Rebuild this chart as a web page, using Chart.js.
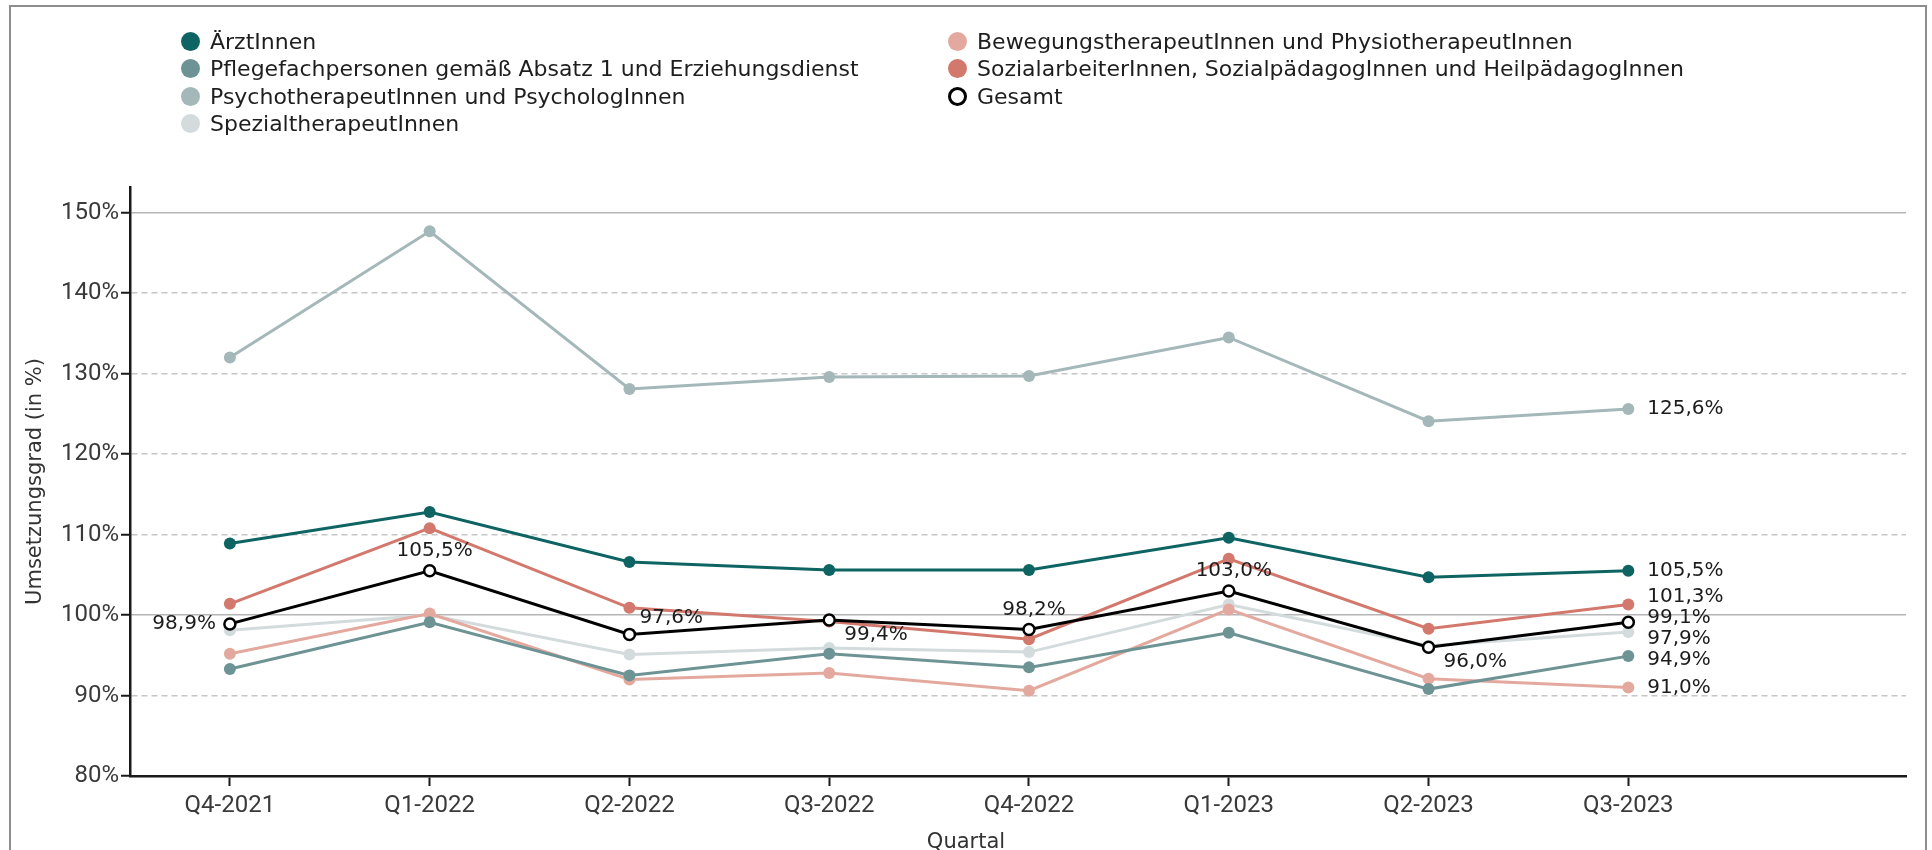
<!DOCTYPE html>
<html lang="de">
<head>
<meta charset="utf-8">
<title>Umsetzungsgrad</title>
<script src="https://cdn.jsdelivr.net/npm/chart.js@4.4.1/dist/chart.umd.min.js"></script>
<style>
  html, body { margin: 0; padding: 0; background: #fff; overflow: hidden; }
  #frame { position: absolute; left: 9px; top: 5px; width: 1918px; height: 900px; border: 2px solid #8e8e8e; box-sizing: border-box; }
  #wrap { position: absolute; left: 0; top: 0; width: 1932px; height: 850px; }
  #legend {
    position: absolute; left: 181px; top: 28px; z-index: 2;
    display: grid; grid-template-rows: repeat(4, 27.3px); grid-auto-flow: column;
    grid-template-columns: 767px auto;
    font-family: "DejaVu Sans"; font-size: 22px; color: #1e1e1e;
  }
  .item { display: flex; align-items: center; white-space: nowrap; }
  .dot { width: 19px; height: 19px; border-radius: 50%; margin-right: 10px; box-sizing: border-box; flex: none; }
</style>
</head>
<body>
<div id="frame"></div>
<div id="legend"></div>
<div id="wrap"><canvas id="chart"></canvas></div>
<script>
// Werte
const categories = ['Q4-2021', 'Q1-2022', 'Q2-2022', 'Q3-2022', 'Q4-2022', 'Q1-2023', 'Q2-2023', 'Q3-2023'];
const yTicks = [80, 90, 100, 110, 120, 130, 140, 150];
const solidLines = [100, 150];

const aerzte   = [108.9, 112.8, 106.6, 105.6, 105.6, 109.6, 104.7, 105.5];
const pflege   = [93.3, 99.1, 92.5, 95.2, 93.5, 97.8, 90.8, 94.9];
const psycho   = [132.0, 147.7, 128.1, 129.6, 129.7, 134.5, 124.1, 125.6];
const spezial  = [98.1, 100.0, 95.1, 95.9, 95.4, 101.3, 96.2, 97.9];
const bewegung = [95.2, 100.2, 92.0, 92.8, 90.6, 100.7, 92.1, 91.0];
const sozial   = [101.4, 110.8, 100.9, 99.2, 97.0, 107.0, 98.3, 101.3];
const gesamt   = [98.9, 105.5, 97.6, 99.4, 98.2, 103.0, 96.0, 99.1];

const seriesNames = [
  'ÄrztInnen',
  'Pflegefachpersonen gemäß Absatz 1 und Erziehungsdienst',
  'PsychotherapeutInnen und PsychologInnen',
  'SpezialtherapeutInnen',
  'BewegungstherapeutInnen und PhysiotherapeutInnen',
  'SozialarbeiterInnen, SozialpädagogInnen und HeilpädagogInnen',
  'Gesamt'
];
const seriesValues = [aerzte, pflege, psycho, spezial, bewegung, sozial, gesamt];
const seriesColors = ['#0e6462', '#6d9395', '#a4b7b9', '#d4dbdd', '#e4a99e', '#d3786c', '#000000'];

// wo die Gesamt-Werte stehen (letzter Wert kommt in die Spalte rechts)
const gesamtAnchor = ['left', 'top', 'topRight', 'bottomRight', 'top', 'top', 'bottomRight', 'end'];

const totalIdx = seriesNames.length - 1;
const tickFont = { family: 'Roboto', size: 24 };

function fmt(v) {
  return v.toFixed(1).replace('.', ',') + '%';
}

// Legende in zwei Spalten
const legend = document.getElementById('legend');
seriesNames.forEach((name, i) => {
  const item = document.createElement('div');
  item.className = 'item';
  const dotStyle = i === totalIdx
    ? 'background:#fff;border:3px solid #000'
    : 'background:' + seriesColors[i];
  item.innerHTML = `<span class="dot" style="${dotStyle}"></span>${name}`;
  legend.appendChild(item);
});

// Endwerte auseinanderschieben, damit sie sich nicht überlappen
function spread(items, gap) {
  let groups = items.map(it => ({ items: [it], center: it.target }));
  let merged = true;
  while (merged) {
    merged = false;
    for (let i = 1; i < groups.length; i++) {
      const a = groups[i - 1], b = groups[i];
      const aBottom = a.center + (a.items.length - 1) * gap / 2;
      const bTop = b.center - (b.items.length - 1) * gap / 2;
      if (bTop - aBottom < gap) {
        const all = a.items.concat(b.items);
        const center = all.reduce((s, it) => s + it.target, 0) / all.length;
        groups.splice(i - 1, 2, { items: all, center: center });
        merged = true;
        break;
      }
    }
  }
  groups.forEach(g => g.items.forEach((it, k) => {
    it.y = g.center + (k - (g.items.length - 1) / 2) * gap;
  }));
}

const labelPlugin = {
  id: 'wertLabels',
  afterDatasetsDraw(chart) {
    const ctx = chart.ctx;
    const last = categories.length - 1;
    ctx.save();
    ctx.font = '20px "DejaVu Sans"';
    ctx.fillStyle = '#1c1c1c';
    ctx.textBaseline = 'middle';

    const totalMeta = chart.getDatasetMeta(totalIdx);
    gesamt.forEach((v, k) => {
      if (k === last) return;
      const p = totalMeta.data[k];
      const a = gesamtAnchor[k];
      let x = p.x, y = p.y;
      if (a === 'left') { ctx.textAlign = 'right'; x -= 14; }
      else if (a === 'top') { ctx.textAlign = 'center'; x += 5; y -= 20; }
      else if (a === 'topRight') { ctx.textAlign = 'left'; x += 10; y -= 17; }
      else { ctx.textAlign = 'left'; x += 15; y += 15; }
      ctx.fillText(fmt(v), x, y);
    });

    const ends = seriesValues.map((vals, i) => {
      const p = chart.getDatasetMeta(i).data[last];
      return { x: p.x, y: p.y, target: p.y, text: fmt(vals[last]) };
    }).sort((a, b) => a.target - b.target);
    spread(ends, 21);
    ctx.textAlign = 'left';
    ends.forEach(e => ctx.fillText(e.text, e.x + 19, e.y));
    ctx.restore();
  }
};

const quartalPlugin = {
  id: 'quartal',
  afterDraw(chart) {
    const ctx = chart.ctx;
    ctx.save();
    ctx.font = '21px "DejaVu Sans"';
    ctx.fillStyle = '#333';
    ctx.textAlign = 'center';
    ctx.textBaseline = 'middle';
    ctx.fillText('Quartal', chart.width / 2, chart.height - 7);
    ctx.restore();
  }
};

const datasets = seriesNames.map((name, i) => {
  const isTotal = i === totalIdx;
  return {
    label: name,
    data: seriesValues[i].map((v, k) => ({ x: k, y: v })),
    borderColor: seriesColors[i],
    backgroundColor: isTotal ? '#fff' : seriesColors[i],
    pointBackgroundColor: isTotal ? '#fff' : seriesColors[i],
    pointBorderColor: seriesColors[i],
    pointBorderWidth: isTotal ? 2.5 : 0,
    pointRadius: isTotal ? 5.5 : 6,
    borderWidth: 3,
    order: isTotal ? -1 : (i === 3 ? 1 : 0)
  };
});

new Chart(document.getElementById('chart'), {
  type: 'line',
  data: { datasets: datasets },
  plugins: [labelPlugin, quartalPlugin],
  options: {
    responsive: true,
    maintainAspectRatio: false,
    animation: false,
    layout: { padding: { top: 187, right: 26, left: 0, bottom: 0 } },
    plugins: {
      legend: { display: false },
      tooltip: { enabled: false }
    },
    scales: {
      x: {
        type: 'linear',
        min: -0.5,
        max: 8.39,
        afterBuildTicks: s => { s.ticks = categories.map((c, i) => ({ value: i })); },
        afterFit: s => { s.height = 74; },
        ticks: { callback: v => categories[v], font: tickFont, color: '#3a3a3a', padding: 6, maxRotation: 0, autoSkip: false },
        grid: { drawOnChartArea: false, tickLength: 10, tickColor: '#1a1a1a', tickWidth: 2 },
        border: { color: '#1a1a1a', width: 2.5 }
      },
      y: {
        min: 80,
        max: 153.2,
        afterBuildTicks: s => { s.ticks = yTicks.map(v => ({ value: v })); },
        afterFit: s => { s.width = 130; },
        ticks: { callback: v => v + '%', font: tickFont, color: '#3a3a3a', padding: 2 },
        grid: {
          color: c => {
            if (!c.tick || c.tick.value === 80) return 'transparent';
            return solidLines.includes(c.tick.value) ? '#b5b5b5' : '#c6c6c6';
          },
          lineWidth: 1.5,
          tickLength: 9,
          tickColor: '#1a1a1a',
          tickWidth: 2
        },
        border: {
          color: '#1a1a1a',
          width: 2.5,
          dash: c => (c.tick && !solidLines.includes(c.tick.value)) ? [6, 4] : []
        },
        title: {
          display: true,
          text: 'Umsetzungsgrad (in %)',
          font: { family: 'DejaVu Sans', size: 21 },
          color: '#333',
          padding: { top: 23, bottom: 0 }
        }
      }
    }
  }
});
</script>
</body>
</html>
